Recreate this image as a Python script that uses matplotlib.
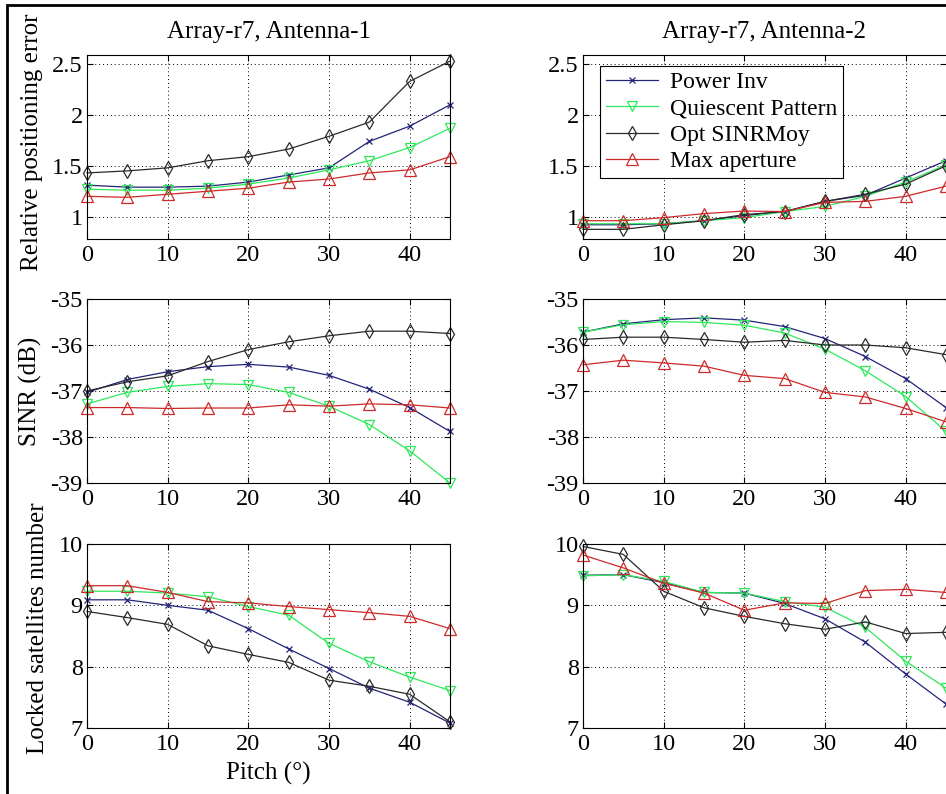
import matplotlib
matplotlib.use('Agg')
import matplotlib.pyplot as plt
from matplotlib.patches import Rectangle

plt.rcParams['font.family'] = ['Liberation Serif', 'DejaVu Serif']
plt.rcParams['font.size'] = 17

pitch = [0, 5, 10, 15, 20, 25, 30, 35, 40, 45]
names = ['Power Inv', 'Quiescent Pattern', 'Opt SINRMoy', 'Max aperture']

# Array-r7, Antenna-1
err_a1_power = [1.31, 1.29, 1.29, 1.30, 1.34, 1.41, 1.48, 1.74, 1.89, 2.10]
err_a1_quiet = [1.27, 1.26, 1.26, 1.28, 1.32, 1.38, 1.46, 1.55, 1.68, 1.87]
err_a1_opt = [1.43, 1.45, 1.48, 1.55, 1.59, 1.665, 1.79, 1.93, 2.33, 2.53]
err_a1_max = [1.20, 1.19, 1.22, 1.25, 1.28, 1.34, 1.37, 1.43, 1.46, 1.59]

sinr_a1_power = [-37.03, -36.75, -36.58, -36.47, -36.42, -36.48, -36.66, -36.96, -37.36, -37.88]
sinr_a1_quiet = [-37.28, -37.03, -36.90, -36.84, -36.86, -37.03, -37.33, -37.73, -38.30, -39.0]
sinr_a1_opt = [-37.0, -36.80, -36.67, -36.36, -36.10, -35.93, -35.80, -35.70, -35.70, -35.75]
sinr_a1_max = [-37.36, -37.36, -37.38, -37.37, -37.37, -37.30, -37.33, -37.28, -37.30, -37.37]

sat_a1_power = [9.09, 9.09, 9.00, 8.92, 8.62, 8.29, 7.97, 7.65, 7.42, 7.08]
sat_a1_quiet = [9.23, 9.23, 9.20, 9.14, 8.98, 8.84, 8.38, 8.08, 7.83, 7.61]
sat_a1_opt = [8.90, 8.80, 8.69, 8.34, 8.20, 8.07, 7.78, 7.68, 7.55, 7.10]
sat_a1_max = [9.32, 9.32, 9.21, 9.06, 9.04, 8.98, 8.93, 8.88, 8.82, 8.62]

# Array-r7, Antenna-2
err_a2_power = [0.92, 0.92, 0.93, 0.96, 1.01, 1.05, 1.15, 1.21, 1.38, 1.55]
err_a2_quiet = [0.93, 0.93, 0.93, 0.96, 0.99, 1.05, 1.10, 1.20, 1.34, 1.51]
err_a2_opt = [0.875, 0.875, 0.92, 0.96, 1.02, 1.05, 1.15, 1.22, 1.32, 1.50]
err_a2_max = [0.96, 0.96, 0.99, 1.03, 1.055, 1.05, 1.14, 1.15, 1.20, 1.30]

sinr_a2_power = [-35.72, -35.54, -35.45, -35.41, -35.46, -35.60, -35.86, -36.25, -36.73, -37.36]
sinr_a2_quiet = [-35.72, -35.56, -35.49, -35.51, -35.57, -35.74, -36.09, -36.56, -37.12, -37.88]
sinr_a2_opt = [-35.88, -35.83, -35.83, -35.88, -35.94, -35.90, -36.0, -36.0, -36.06, -36.21]
sinr_a2_max = [-36.43, -36.33, -36.39, -36.46, -36.66, -36.73, -37.03, -37.13, -37.38, -37.67]

sat_a2_power = [9.49, 9.50, 9.37, 9.21, 9.20, 9.03, 8.78, 8.40, 7.88, 7.39]
sat_a2_quiet = [9.48, 9.50, 9.39, 9.21, 9.20, 9.06, 8.97, 8.64, 8.09, 7.65]
sat_a2_opt = [9.96, 9.83, 9.23, 8.96, 8.82, 8.70, 8.61, 8.73, 8.54, 8.56]
sat_a2_max = [9.82, 9.61, 9.36, 9.20, 8.92, 9.04, 9.03, 9.24, 9.26, 9.21]

colors = ['#23237a', '#2ee85a', '#2a2a2a', '#cc2a2a']
markers = ['x', 'v', 'd', '^']
msizes = [5, 7.5, 7.5, 8]

panels = [
    [err_a1_power, err_a1_quiet, err_a1_opt, err_a1_max],
    [err_a2_power, err_a2_quiet, err_a2_opt, err_a2_max],
    [sinr_a1_power, sinr_a1_quiet, sinr_a1_opt, sinr_a1_max],
    [sinr_a2_power, sinr_a2_quiet, sinr_a2_opt, sinr_a2_max],
    [sat_a1_power, sat_a1_quiet, sat_a1_opt, sat_a1_max],
    [sat_a2_power, sat_a2_quiet, sat_a2_opt, sat_a2_max],
]
ylims = [(0.78, 2.59), (0.78, 2.59), (-39, -35), (-39, -35), (7, 10), (7, 10)]
yticks = [[1, 1.5, 2, 2.5], [1, 1.5, 2, 2.5], [-39, -38, -37, -36, -35],
          [-39, -38, -37, -36, -35], [7, 8, 9, 10], [7, 8, 9, 10]]
ytlabels = [['1', '1.5', '2', '2.5'], ['1', '1.5', '2', '2.5'],
            ['-39', '-38', '-37', '-36', '-35'], ['-39', '-38', '-37', '-36', '-35'],
            ['7', '8', '9', '10'], ['7', '8', '9', '10']]

fig = plt.figure(figsize=(9.46, 7.94), dpi=100)
W, H = 946.0, 794.0
lefts = [87 / W, 583 / W]
bottoms = [1 - 239 / H, 1 - 483 / H, 1 - 728 / H]
aw, ah = 363 / W, 184 / H

axes = []
for i in range(6):
    row, col = i // 2, i % 2
    ax = fig.add_axes([lefts[col], bottoms[row], aw, ah])
    for k in range(4):
        ax.plot(pitch, panels[i][k], color=colors[k], marker=markers[k],
                markersize=msizes[k], markerfacecolor='none', markeredgewidth=0.9,
                linewidth=0.9, label=names[k], clip_on=False)
    ax.set_xlim(0, 45)
    ax.set_ylim(*ylims[i])
    ax.set_xticks([0, 10, 20, 30, 40])
    ax.set_yticks(yticks[i])
    ax.set_yticklabels(ytlabels[i])
    ax.grid(True, linestyle=(0, (1, 3)), color='black', linewidth=0.7)
    ax.tick_params(direction='in', length=4, top=True, right=True, labelsize=17.5)
    ax.tick_params(axis='x', pad=4)
    ax.tick_params(axis='y', pad=3)
    for s in ax.spines.values():
        s.set_linewidth(0.8)
    if col == 1:
        ax.spines['right'].set_visible(False)
    axes.append(ax)

axes[0].set_title('Array-r7, Antenna-1', fontsize=18, pad=12)
axes[1].set_title('Array-r7, Antenna-2', fontsize=18, pad=12)

axes[0].set_ylabel('Relative positioning error', fontsize=18)
axes[0].yaxis.set_label_coords(-0.121, 0.528)
axes[2].set_ylabel('SINR (dB)', fontsize=18)
axes[2].yaxis.set_label_coords(-0.124, 0.5)
axes[4].set_ylabel('Locked satellites number', fontsize=18)
axes[4].yaxis.set_label_coords(-0.104, 0.543)
axes[4].set_xlabel('Pitch (°)', fontsize=18, labelpad=5)

leg = axes[1].legend(loc='upper left', bbox_to_anchor=(0.047, 0.94), borderaxespad=0,
                     fancybox=False, edgecolor='black', framealpha=1, fontsize=17,
                     handlelength=2.2, labelspacing=0.2, borderpad=0.25, handletextpad=0.5)
leg.get_frame().set_linewidth(0.8)

# frame around the whole picture (cut at right and bottom)
fig.patches.append(Rectangle((7 / W, -0.1), 1.2, 1.1 - 5 / H, transform=fig.transFigure,
                             fill=False, edgecolor='black', linewidth=2))

fig.savefig('out.png', dpi=100)
